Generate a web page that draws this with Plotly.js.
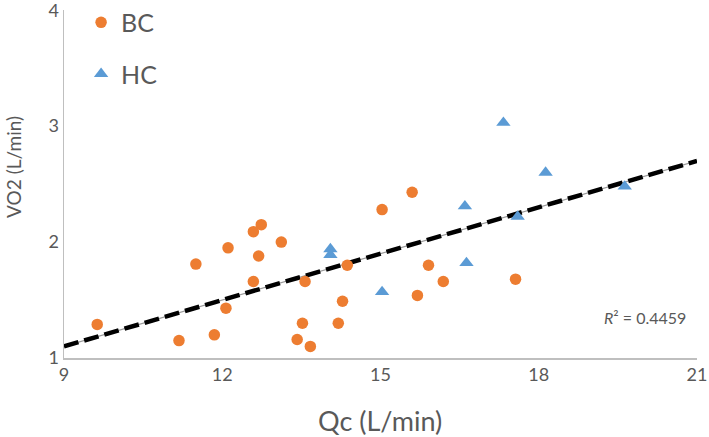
<!DOCTYPE html>
<html><head><meta charset="utf-8">
<script src="https://cdn.plot.ly/plotly-3.0.1.min.js"></script>
<style>html,body{margin:0;padding:0;background:#fff}#c{width:709px;height:437px}</style>
</head><body><div id="c"></div>
<script>
const bcX = [9.63, 11.18, 11.5, 11.85, 12.07, 12.11, 12.59, 12.74, 12.69, 12.59, 13.12, 13.52, 13.42, 13.67, 13.57, 14.2, 14.28, 14.37, 15.03, 15.6, 15.91, 15.7, 16.19, 17.56];
const bcY = [1.29, 1.15, 1.81, 1.20, 1.43, 1.95, 2.09, 2.15, 1.88, 1.66, 2.00, 1.30, 1.16, 1.10, 1.66, 1.30, 1.49, 1.80, 2.28, 2.43, 1.80, 1.54, 1.66, 1.68];
const hcX = [14.05, 14.05, 15.03, 16.63, 16.6, 17.6, 17.33, 18.13, 19.63];
const hcY = [1.94, 1.89, 1.57, 1.82, 2.31, 2.22, 3.03, 2.60, 2.48];
const trendX = [9, 21];
const trendY = [1.10, 2.70];
const xTicks = [9, 12, 15, 18, 21];
const yTicks = [1, 2, 3, 4];
const r2Text = "<i>R</i>² = 0.4459";
const xTitle = "Qc (L/min)";
const yTitle = "VO2 (L/min)";

const font = "Lato, 'Open Sans', sans-serif";
const grey = "#595959";

const data = [
  {x: trendX, y: trendY, mode: "lines", line: {color: "#9a9a9a", width: 1.2}, showlegend: false, hoverinfo: "skip"},
  {x: trendX, y: trendY, mode: "lines", line: {color: "#000", width: 4.5, dash: "15px,6px"}, showlegend: false, hoverinfo: "skip"},
  {x: bcX, y: bcY, mode: "markers", name: "BC", legendgroup: "a",
   marker: {symbol: "circle", size: 11.5, color: "#ED7D31"}},
  {x: hcX, y: hcY, mode: "markers", name: "HC", legendgroup: "b",
   marker: {symbol: "triangle-up", size: 12.5, color: "#5B9BD5"}}
];

const layout = {
  width: 709, height: 437,
  margin: {l: 64, r: 12, t: 10, b: 79, autoexpand: false},
  paper_bgcolor: "#fff", plot_bgcolor: "#fff",
  font: {family: font, color: grey},
  xaxis: {range: [9, 21], tickvals: xTicks, ticktext: xTicks.map(String), showgrid: false, zeroline: false,
    showline: true, linecolor: "#bfbfbf", linewidth: 1.5, ticks: "", tickfont: {size: 18, color: grey},
    ticklabeloverflow: "allow"},
  yaxis: {range: [1, 4.002], tickvals: yTicks, ticktext: yTicks.map(String), showgrid: false, zeroline: false,
    showline: true, linecolor: "#bfbfbf", linewidth: 1.5, ticks: "", tickfont: {size: 18, color: grey},
    ticklabeloverflow: "allow"},
  legend: {x: 0.027, y: 1.03, xanchor: "left", yanchor: "top", bgcolor: "rgba(0,0,0,0)",
    font: {size: 25, color: grey}, traceorder: "grouped", tracegroupgap: 16, itemwidth: 30},
  annotations: [
    {x: 20.83, y: 1.35, xref: "x", yref: "y", text: r2Text, showarrow: false,
      xanchor: "right", font: {size: 16, color: grey}},
    {x: 0.499, y: -0.181, xref: "paper", yref: "paper", text: xTitle, showarrow: false,
      xanchor: "center", yanchor: "middle", font: {size: 27, color: grey}},
    {x: -0.079, y: 0.549, xref: "paper", yref: "paper", text: yTitle, showarrow: false, textangle: -90,
      xanchor: "center", yanchor: "middle", font: {size: 19, color: grey}}
  ]
};
Plotly.newPlot("c", data, layout, {displayModeBar: false, staticPlot: true});
</script></body></html>
